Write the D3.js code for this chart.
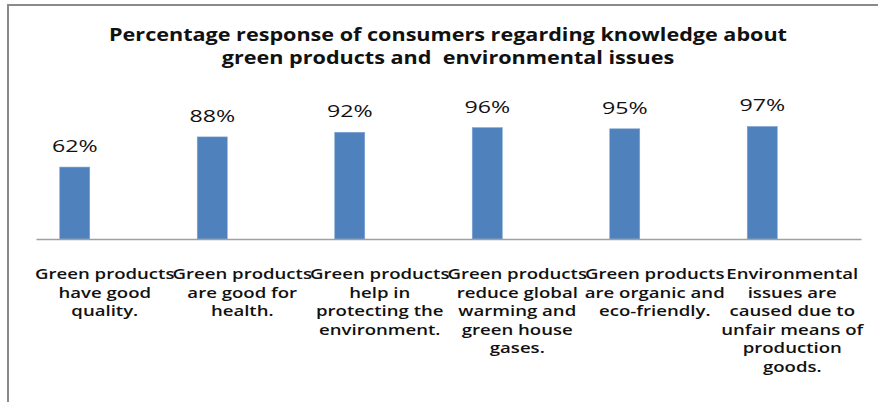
<!DOCTYPE html>
<html>
<head>
<meta charset="utf-8">
<title>Green products knowledge</title>
<script src="https://d3js.org/d3.v7.min.js"></script>
<style>
body { margin: 0; background: #fff; }
text { font-family: "Open Sans", sans-serif; fill: #111; }
</style>
</head>
<body>
<script>
// data
var titleLines = ["Percentage response of consumers regarding knowledge about",
                  "green products and  environmental issues"];
var categories = ["c1", "c2", "c3", "c4", "c5", "c6"];
var labelLines = [
    ["Green products", "have good", "quality."],
    ["Green products", "are good for", "health."],
    ["Green products", "help in", "protecting the", "environment."],
    ["Green products", "reduce global", "warming and", "green house", "gases."],
    ["Green products", "are organic and", "eco-friendly."],
    ["Environmental", "issues are", "caused due to", "unfair means of", "production", "goods."]
];
var values = [0.62, 0.88, 0.92, 0.96, 0.95, 0.97];

var width = 878, height = 402;

var svg = d3.select("body").append("svg")
    .attr("width", width)
    .attr("height", height);

// frame
svg.append("path")
    .attr("d", "M8," + height + "V5H" + width)
    .attr("fill", "none")
    .attr("stroke", "#8a8a8a")
    .attr("stroke-width", 2);

var x = d3.scaleBand()
    .domain(categories)
    .range([36, 861]);

var y = d3.scaleLinear()
    .domain([0, 1])
    .range([239, 123]);

var barW = 30;

// title
svg.selectAll(".title")
    .data(titleLines)
    .enter()
    .append("text")
    .attr("class", "title")
    .attr("transform", function(d, i) {
        return "translate(448," + (41 + i * 23) + ") scale(1.27,1)";
    })
    .attr("text-anchor", "middle")
    .style("font-size", "17px")
    .style("font-weight", 700)
    .style("white-space", "pre")
    .text(function(d) { return d; });

// bars
svg.selectAll(".bar")
    .data(values)
    .enter()
    .append("rect")
    .attr("class", "bar")
    .attr("x", function(d, i) { return x(categories[i]) + x.bandwidth() / 2 - 45; })
    .attr("y", function(d) { return y(d); })
    .attr("width", barW)
    .attr("height", function(d) { return y(0) - y(d); })
    .attr("fill", "#4f81bd")
    .attr("stroke", "#7fa3d0")
    .attr("stroke-width", 0.6);

// value labels
svg.selectAll(".val")
    .data(values)
    .enter()
    .append("text")
    .attr("class", "val")
    .attr("transform", function(d, i) {
        var cx = x(categories[i]) + x.bandwidth() / 2 - 45 + barW / 2;
        return "translate(" + cx + "," + (y(d) - 15) + ") scale(1.45,1)";
    })
    .attr("text-anchor", "middle")
    .style("font-size", "16px")
    .text(function(d) { return d3.format(".0%")(d); });

// axis line
var xAxis = d3.axisBottom(x).tickSize(0).tickFormat("");
var gx = svg.append("g")
    .attr("transform", "translate(0," + y(0) + ")")
    .call(xAxis);
gx.select(".domain").attr("stroke", "#a0a0a0").attr("stroke-width", 1.3);

// category labels
var lab = svg.selectAll(".cat")
    .data(labelLines)
    .enter()
    .append("g")
    .attr("class", "cat")
    .attr("transform", function(d, i) {
        return "translate(" + (x(categories[i]) + x.bandwidth() / 2) + ",279) scale(1.24,1)";
    });

lab.append("text")
    .attr("text-anchor", "middle")
    .style("font-size", "15px")
    .style("font-weight", 600)
    .selectAll("tspan")
    .data(function(d) { return d; })
    .enter()
    .append("tspan")
    .attr("x", 0)
    .attr("y", function(d, i) { return i * 18.6; })
    .text(function(d) { return d; });
</script>
</body>
</html>
